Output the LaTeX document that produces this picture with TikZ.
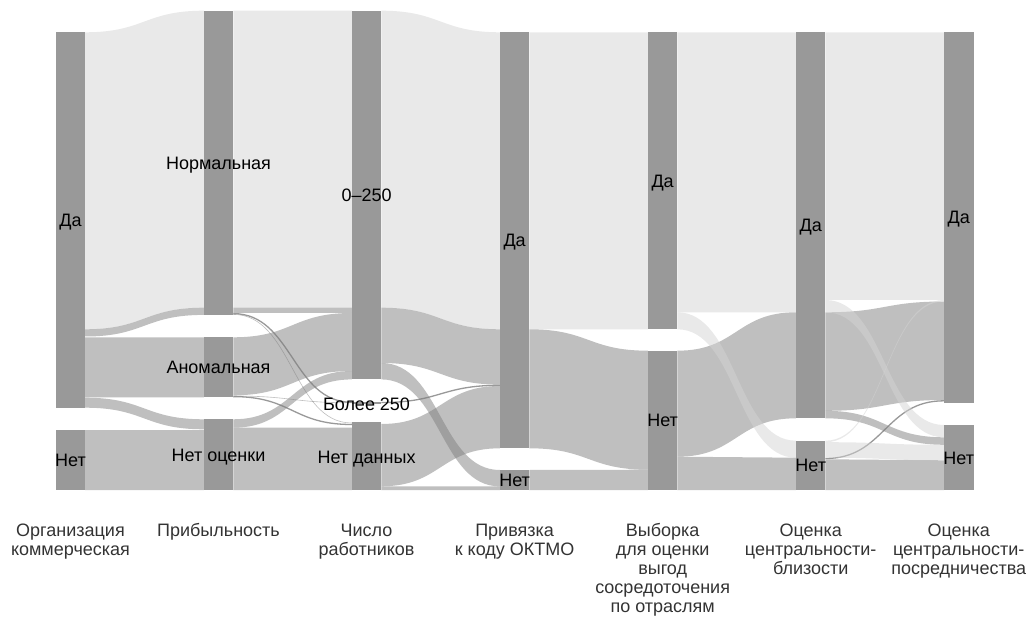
\documentclass[tikz,border=0pt]{standalone}
\usepackage{fontspec}
\setmainfont{Liberation Sans}
\definecolor{lc}{HTML}{D3D3D3}
\definecolor{mc}{HTML}{7F7F7F}
\definecolor{barc}{HTML}{999999}
\newcommand{\sfl}[7]{%
  \path[#7] (#1,#3) .. controls ({(#1+#2)/2},#3) and ({(#1+#2)/2},#5) .. (#2,#5) -- (#2,#6) .. controls ({(#1+#2)/2},#6) and ({(#1+#2)/2},#4) .. (#1,#4) -- cycle;}
\newcommand{\sln}[5]{%
  \draw[#5] (#1,#3) .. controls ({(#1+#2)/2},#3) and ({(#1+#2)/2},#4) .. (#2,#4);}
\begin{document}
\begin{tikzpicture}[x=1pt,y=-1pt,
  lt/.style={fill=lc,fill opacity=0.5},
  md/.style={fill=mc,fill opacity=0.5},
  dk/.style={draw=mc,draw opacity=0.8,line width=1.3pt},
  dkl/.style={draw=mc,draw opacity=0.5,line width=0.6pt},
  bar/.style={fill=barc},
  lab/.style={font=\fontsize{18}{19}\selectfont,anchor=base,inner sep=0pt,text=black},
  axl/.style={font=\fontsize{18}{19}\selectfont,anchor=north,inner sep=0pt,align=center,text=black!80}]
\useasboundingbox (0,0) rectangle (1030,617);
% gap 1
\sfl{85.2}{203.75}{32.3}{329.3}{10.7}{307.7}{lt}
\sfl{85.2}{203.75}{329.3}{336.5}{307.7}{314.9}{md}
\sfl{85.2}{203.75}{337.3}{397.3}{337.3}{397.3}{md}
\sfl{85.2}{203.75}{397.7}{407.7}{419.3}{429.3}{md}
\sfl{85.2}{203.75}{430}{490}{430}{490}{md}
% gap 2
\sfl{233.25}{351.8}{10.7}{307.7}{10.7}{307.7}{lt}
\sfl{233.25}{351.8}{307.7}{313}{307.7}{313}{md}
\sfl{233.25}{351.8}{337.3}{395.3}{313}{371}{md}
\sfl{233.25}{351.8}{419.3}{427.7}{371}{379.4}{md}
\sfl{233.25}{351.8}{427.7}{490}{427.7}{490}{md}
\sln{233.25}{351.8}{313.6}{402.3}{dk}
\sln{233.25}{351.8}{314.4}{423}{dkl}
\sln{233.25}{351.8}{396}{402.8}{dkl}
\sln{233.25}{351.8}{396.6}{424.5}{dk}
% gap 3
\sfl{381.3}{499.85}{10.7}{307.7}{32.3}{329.3}{lt}
\sfl{381.3}{499.85}{307.7}{363}{329.3}{384.6}{md}
\sfl{381.3}{499.85}{363}{379.4}{470}{486.4}{md}
\sfl{381.3}{499.85}{424}{486.3}{386}{448.3}{md}
\sfl{381.3}{499.85}{486.4}{490}{486.4}{490}{md}
\sln{381.3}{499.85}{402.5}{385.3}{dk}
% gap 4
\sfl{529.35}{647.9}{32.3}{329.3}{32.3}{329.3}{lt}
\sfl{529.35}{647.9}{329.3}{448.3}{350.7}{469.7}{md}
\sfl{529.35}{647.9}{470}{490}{469.7}{490}{md}
% gap 5
\sfl{677.4}{795.95}{350.7}{456.7}{312.3}{418.3}{md}
\sfl{677.4}{795.95}{456.7}{490}{457.7}{490}{md}
\sfl{677.4}{795.95}{32.3}{312.3}{32.3}{312.3}{lt}
\sfl{677.4}{795.95}{312.3}{329.3}{440.7}{457.7}{lt}
% gap 6
\sfl{825.45}{944}{312.3}{410.8}{301.5}{400}{md}
\sfl{825.45}{944}{410.8}{418.3}{437.3}{444.8}{md}
\sfl{825.45}{944}{459.3}{490}{460.3}{490}{md}
\sln{825.45}{944}{458.5}{400.8}{dk}
\sfl{825.45}{944}{32.3}{300}{32.3}{300}{lt}
\sfl{825.45}{944}{300}{312.3}{425}{437.3}{lt}
\sfl{825.45}{944}{440.7}{442.2}{300}{301.5}{lt}
\sfl{825.45}{944}{442.2}{457.7}{444.8}{460.3}{lt}
% bars
\fill[bar] (55.7,32.3) rectangle (85.2,407.7);
\fill[bar] (55.7,430) rectangle (85.2,490);
\fill[bar] (203.75,10.7) rectangle (233.25,315);
\fill[bar] (203.75,337.3) rectangle (233.25,397.3);
\fill[bar] (203.75,419.3) rectangle (233.25,490);
\fill[bar] (351.8,10.7) rectangle (381.3,379.4);
\fill[bar] (351.8,401.5) rectangle (381.3,403.5);
\fill[bar] (351.8,421.7) rectangle (381.3,490);
\fill[bar] (499.85,32.3) rectangle (529.35,448.3);
\fill[bar] (499.85,470) rectangle (529.35,490);
\fill[bar] (647.9,32.3) rectangle (677.4,329.3);
\fill[bar] (647.9,350.7) rectangle (677.4,490);
\fill[bar] (795.95,32.3) rectangle (825.45,418.3);
\fill[bar] (795.95,440.7) rectangle (825.45,490);
\fill[bar] (944,32.3) rectangle (973.5,402.7);
\fill[bar] (944,425) rectangle (973.5,490);
% stratum labels
\node[lab] (a1) at (70.45,226.5) {Да};
\node[lab] (a2) at (70.45,466.5) {Нет};
\node[lab] (b1) at (218.5,169.3) {Нормальная};
\node[lab] (b2) at (218.5,373.8) {Аномальная};
\node[lab] (b3) at (218.5,461.2) {Нет оценки};
\node[lab] (c1) at (366.55,201.5) {0–250};
\node[lab] (c2) at (366.55,410.5) {Более 250};
\node[lab] (c3) at (366.55,463.5) {Нет данных};
\node[lab] (d1) at (514.6,246.8) {Да};
\node[lab] (d2) at (514.6,486.5) {Нет};
\node[lab] (e1) at (662.65,187.3) {Да};
\node[lab] (e2) at (662.65,426.8) {Нет};
\node[lab] (f1) at (810.7,231.8) {Да};
\node[lab] (f2) at (810.7,471.8) {Нет};
\node[lab] (g1) at (958.75,224) {Да};
\node[lab] (g2) at (958.75,464) {Нет};
% axis labels
\node[axl] (x1) at (70.45,523.5) {Организация\\коммерческая};
\node[axl] (x2) at (218.5,523.5) {Прибыльность};
\node[axl] (x3) at (366.55,523.5) {Число\\работников};
\node[axl] (x4) at (514.6,523.5) {Привязка\\к коду ОКТМО};
\node[axl] (x5) at (662.65,523.5) {Выборка\\для оценки\\выгод\\сосредоточения\\по отраслям};
\node[axl] (x6) at (810.7,523.5) {Оценка\\центральности-\\близости};
\node[axl] (x7) at (958.75,523.5) {Оценка\\центральности-\\посредничества};
\end{tikzpicture}
\end{document}
